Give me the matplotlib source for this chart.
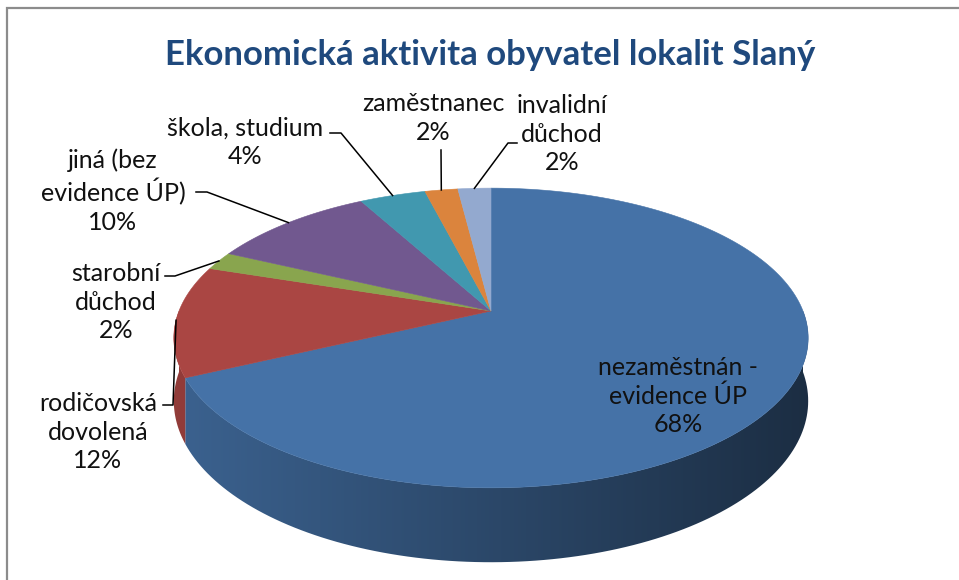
import matplotlib
matplotlib.use("Agg")
import matplotlib.pyplot as plt
from matplotlib.patches import Polygon
import numpy as np

plt.rcParams["font.family"] = ["Lato", "DejaVu Sans"]

# -- data --
title = "Ekonomická aktivita obyvatel lokalit Slaný"
labels = ["nezaměstnán -\nevidence ÚP", "rodičovská\ndovolená", "starobní\ndůchod",
          "jiná (bez\nevidence ÚP)", "škola, studium", "zaměstnanec", "invalidní\ndůchod"]
values = [68, 12, 2, 10, 4, 2, 2]
colors = ["#4572A7", "#AA4643", "#89A54E", "#71588F", "#4198AF", "#DB843D", "#93A9CF"]

# label centres (px) and leader stubs: (start, elbow) or None
label_pos = [(678, 396), (98, 432), (116, 302), (113, 191), (245, 142), (433, 118), (562, 134)]
stubs = [None,
         ((163, 405), (173, 405)),
         ((165, 276), (175, 276)),
         ((196, 192), (207, 192)),
         ((330, 133), (341, 133)),
         ((441, 150), (441, 150)),
         ((517, 143), (508, 143))]

# -- 3d pie geometry (pixel space, simple perspective) --
CX, CY = 491, 311
A, B, K, DEPTH = 312, 145, 0.18, 61


def proj(phi, drop=0.0):
    u, w = np.cos(phi), np.sin(phi)
    s = 1 + K * w
    return CX + A * u / s, CY + (-B * w + drop) / s


fig = plt.figure(figsize=(9.59, 5.80), dpi=100)
ax = fig.add_axes([0, 0, 1, 1])

# frame (cropped chart area)
ax.plot([7, 7, 959], [580, 8, 8], color="#8C8C8C", lw=1.6, solid_joinstyle="miter")

total = float(sum(values))
bounds = []
start = 90.0
for v in values:
    end = start - v * 360.0 / total
    bounds.append((start, end))
    start = end

# sides: one polygon per wedge (front half only), filled with a left-to-right shade
xl, xr = CX - A * 1.02, CX + A * 1.02
xs = np.linspace(xl, xr, 400)
fac = 0.86 - 0.46 * (xs - xl) / (xr - xl)
for (t1, t2), c in zip(bounds, colors):
    lo, hi = t2, t1
    # front half in this parametrisation: [-180, 0] or [180, 360]
    segs = []
    for a, b in [(-180.0, 0.0), (180.0, 360.0), (-540.0, -360.0)]:
        s0, s1 = max(lo, a), min(hi, b)
        if s1 > s0:
            segs.append((s0, s1))
    for s0, s1 in segs:
        phis = np.radians(np.linspace(s0, s1, 120))
        top = [proj(p) for p in phis]
        bot = [proj(p, DEPTH) for p in phis[::-1]]
        poly = Polygon(top + bot, closed=True, facecolor="none", edgecolor="none", zorder=1)
        ax.add_patch(poly)
        rgb = np.array(matplotlib.colors.to_rgb(c))
        img = (fac[:, None] * rgb[None, :])[None, :, :]
        im = ax.imshow(img, extent=(xl, xr, 580, 0), aspect="auto", zorder=1,
                       interpolation="bilinear")
        im.set_clip_path(poly)

# top faces
for (t1, t2), c in zip(bounds, colors):
    phis = np.radians(np.linspace(t1, t2, 200))
    pts = [(CX, CY)] + [proj(p) for p in phis]
    ax.add_patch(Polygon(pts, closed=True, facecolor=c, edgecolor=c, lw=0.4, zorder=2))

# labels and leaders
for lab, v, (lx, ly), st, (t1, t2) in zip(labels, values, label_pos, stubs, bounds):
    pct = "%d%%" % round(100 * v / total)
    ax.text(lx, ly, lab + "\n" + pct, fontsize=18, ha="center", va="center",
            color="#111111", linespacing=1.27, zorder=4)
    if st is not None:
        rx, ry = proj(np.radians(0.5 * (t1 + t2)))
        (sx, sy), (ex, ey) = st
        ax.plot([sx, ex, rx], [sy, ey, ry], color="black", lw=1.1, zorder=3)

ax.text(490, 55, title, fontsize=25, fontweight="bold", color="#1F497D",
        ha="center", va="center")

ax.set_xlim(0, 959)
ax.set_ylim(580, 0)
ax.axis("off")

fig.savefig("out.png", dpi=100)
